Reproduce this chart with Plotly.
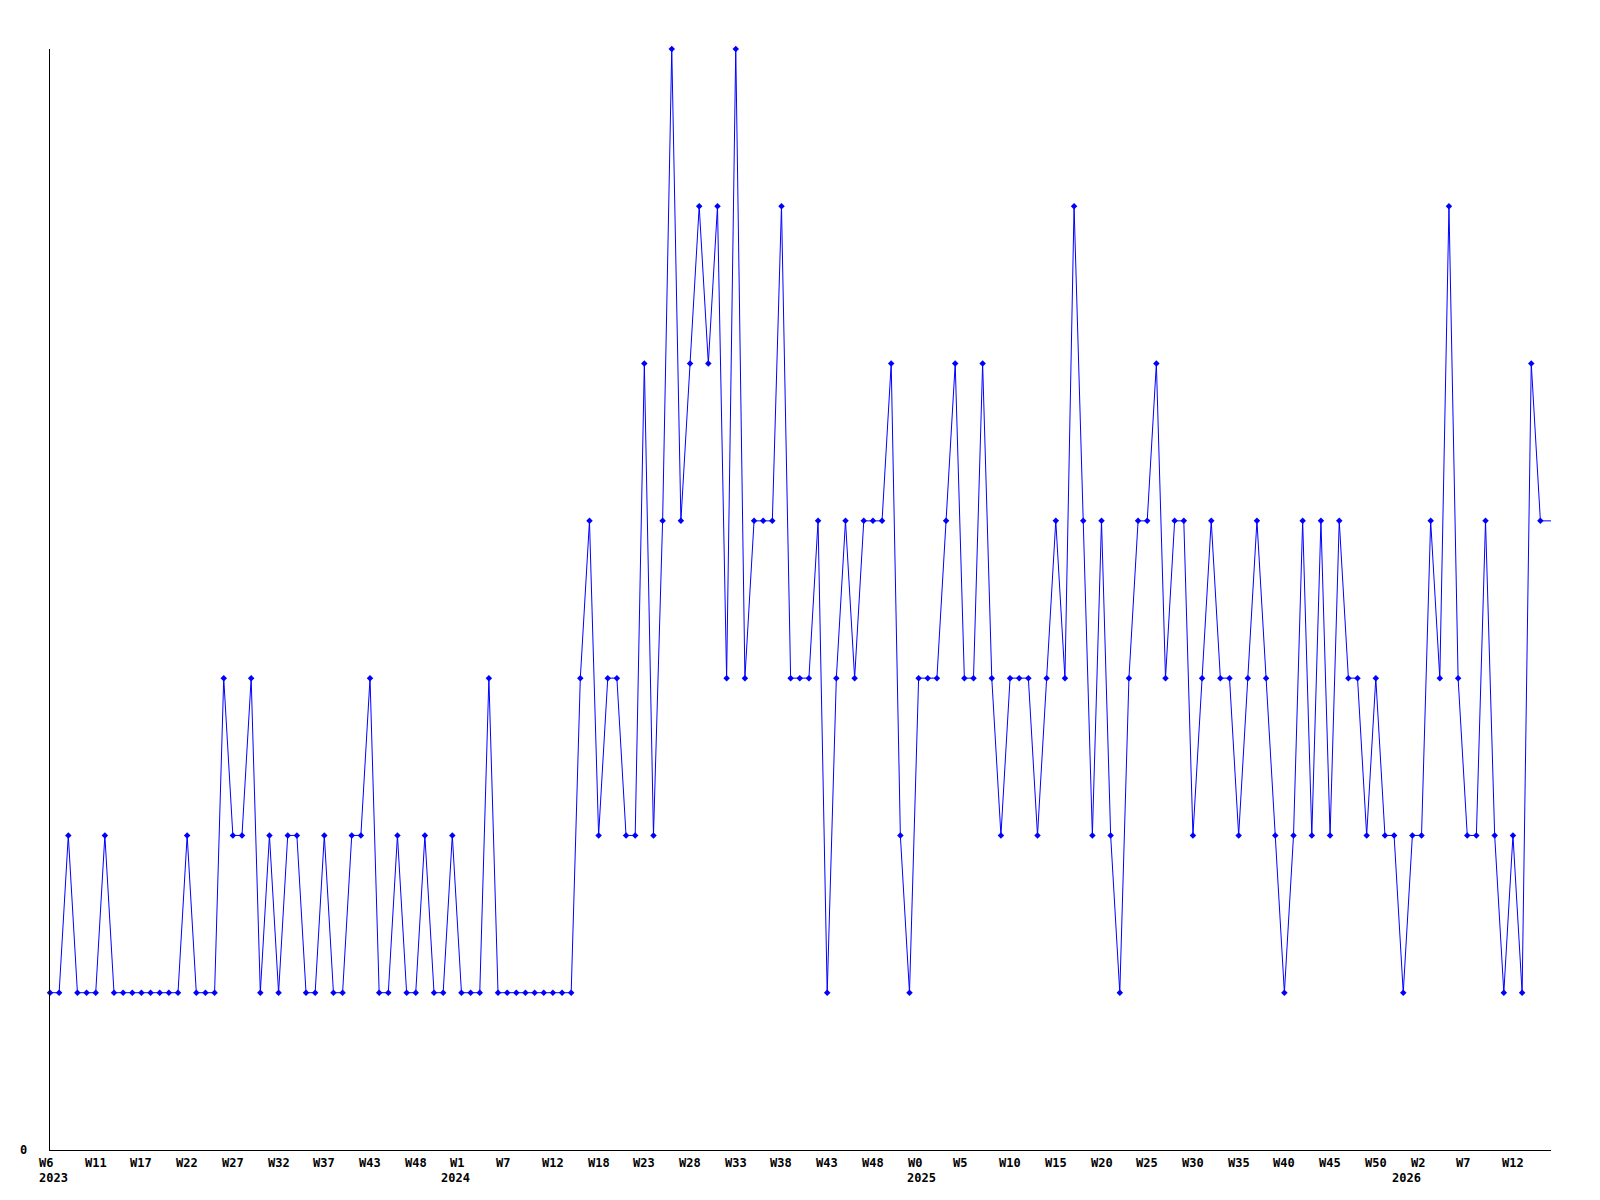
import plotly.graph_objects as go

# Weekly values, first point = W6 2023
values = [1, 1, 2, 1, 1, 1, 2, 1, 1, 1,
          1, 1, 1, 1, 1, 2, 1, 1, 1, 3,
          2, 2, 3, 1, 2, 1, 2, 2, 1, 1,
          2, 1, 1, 2, 2, 3, 1, 1, 2, 1,
          1, 2, 1, 1, 2, 1, 1, 1, 3, 1,
          1, 1, 1, 1, 1, 1, 1, 1, 3, 4,
          2, 3, 3, 2, 2, 5, 2, 4, 7, 4,
          5, 6, 5, 6, 3, 7, 3, 4, 4, 4,
          6, 3, 3, 3, 4, 1, 3, 4, 3, 4,
          4, 4, 5, 2, 1, 3, 3, 3, 4, 5,
          3, 3, 5, 3, 2, 3, 3, 3, 2, 3,
          4, 3, 6, 4, 2, 4, 2, 1, 3, 4,
          4, 5, 3, 4, 4, 2, 3, 4, 3, 3,
          2, 3, 4, 3, 2, 1, 2, 4, 2, 4,
          2, 4, 3, 3, 2, 3, 2, 2, 1, 2,
          2, 4, 3, 6, 3, 2, 2, 4, 2, 1,
          2, 1, 5, 4]
week_index = list(range(len(values)))

# x-axis labels (one every 5 weeks)
tick_step = 5
week_labels = ["W6", "W11", "W17", "W22", "W27", "W32", "W37", "W43", "W48",
               "W1", "W7", "W12", "W18", "W23", "W28", "W33", "W38", "W43", "W48",
               "W0", "W5", "W10", "W15", "W20", "W25", "W30", "W35", "W40", "W45", "W50",
               "W2", "W7", "W12"]
year_labels = ["2023", "2024", "2025", "2026"]
year_label_pos = [0, 44.0, 94.9, 148.0]   # in week-index units

y_max = 7
x_end = len(values) - 1 + 1.16

font_family = "DejaVu Sans Mono"
label_font = dict(family=font_family, size=12, color="black", weight="bold")

fig = go.Figure()
fig.add_trace(go.Scatter(
    x=week_index, y=values, mode="lines+markers",
    line=dict(color="#0000ff", width=1),
    marker=dict(symbol="diamond", size=5, color="#0000ff"),
    cliponaxis=False, showlegend=False, hoverinfo="x+y",
))
# line carried on to the end of the axis at the last value
fig.add_trace(go.Scatter(
    x=[week_index[-1], x_end], y=[values[-1], values[-1]], mode="lines",
    line=dict(color="#0000ff", width=1), showlegend=False, hoverinfo="skip",
))

annotations = []
for k, lab in enumerate(week_labels):
    annotations.append(dict(
        x=k * tick_step, xref="x", y=0, yref="paper", text=lab,
        showarrow=False, xanchor="left", yanchor="top", xshift=-13, yshift=-3.5,
        font=label_font,
    ))
for pos, yr in zip(year_label_pos, year_labels):
    annotations.append(dict(
        x=pos, xref="x", y=0, yref="paper", text=yr,
        showarrow=False, xanchor="left", yanchor="top", xshift=-13, yshift=-18.5,
        font=label_font,
    ))
annotations.append(dict(
    x=0, xref="paper", y=0, yref="y", text="0", showarrow=False,
    xanchor="right", yanchor="middle", xshift=-21.5,
    font=label_font,
))

fig.update_layout(
    width=1600, height=1200,
    margin=dict(l=50, r=49.4, t=49, b=50, pad=0),
    paper_bgcolor="white", plot_bgcolor="white",
    xaxis=dict(range=[0, x_end], showgrid=False, zeroline=False, showline=True,
               linecolor="black", linewidth=1, showticklabels=False, ticks=""),
    yaxis=dict(range=[0, y_max], showgrid=False, zeroline=False, showline=True,
               linecolor="black", linewidth=1, showticklabels=False, ticks=""),
    annotations=annotations,
)

fig.write_html("out.html", config={"displayModeBar": False},
               post_script="document.body.style.margin='0px';")
